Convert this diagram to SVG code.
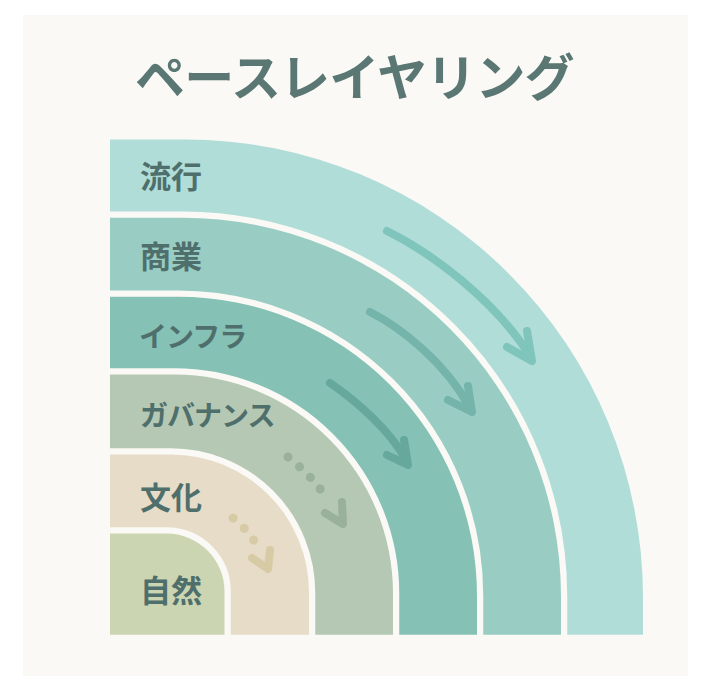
<svg xmlns="http://www.w3.org/2000/svg" width="720" height="686" viewBox="0 0 720 686">
  <style>
    .band { stroke: #faf9f5; stroke-width: 12.5; paint-order: stroke; stroke-linejoin: round; }
    .lbl { font-family: "Noto Sans CJK JP", "Noto Sans", sans-serif; font-weight: 700; font-size: 31px; fill: #4f6f6c; }
    .kana { font-size: 28px; letter-spacing: -1px; }
    .title { font-family: "Noto Sans CJK JP", "Noto Sans", sans-serif; font-weight: 700; font-size: 50px; fill: #5a7774; letter-spacing: -0.8px; }
    .arr { fill: none; stroke-linecap: round; stroke-linejoin: round; }
    .solid { stroke-width: 8; }
    .dots { stroke-width: 9; stroke-dasharray: 0.1 15; }
  </style>
  <rect x="0" y="0" width="720" height="686" fill="#ffffff"/>
  <rect x="23" y="15" width="665" height="661" fill="#faf9f5"/>
  <text class="title" x="135" y="96">ペースレイヤリング</text>

  <g id="layer-fashion">
    <path class="band" fill="#b0ddd8" d="M110,634.7 V139.5 H185 A458,458 0 0 1 643,597.5 V634.7 Z"/>
    <text class="lbl" x="140" y="188">流行</text>
  </g>
  <g id="layer-commerce">
    <path class="band" fill="#99cdc3" d="M110,634.7 V217.7 H182 A379,379 0 0 1 561,596.7 V634.7 Z"/>
    <text class="lbl" x="140" y="268">商業</text>
  </g>
  <g id="layer-infrastructure">
    <path class="band" fill="#86c1b5" d="M110,634.7 V296.7 H178 A299,299 0 0 1 477,595.7 V634.7 Z"/>
    <text class="lbl kana" x="139" y="347">インフラ</text>
  </g>
  <g id="layer-governance">
    <path class="band" fill="#b5c8b3" d="M110,634.7 V374.5 H174 A219,219 0 0 1 393,593.5 V634.7 Z"/>
    <text class="lbl kana" x="140" y="426">ガバナンス</text>
  </g>
  <g id="layer-culture">
    <path class="band" fill="#e6dcc7" d="M110,634.7 V454.5 H171 A138,138 0 0 1 309,592.5 V634.7 Z"/>
    <text class="lbl" x="140" y="509">文化</text>
  </g>
  <g id="layer-nature">
    <path class="band" fill="#ccd5b1" d="M110,634.7 V533.5 H166.5 A58,58 0 0 1 224.5,591.5 V634.7 Z"/>
    <text class="lbl" x="140" y="602">自然</text>
  </g>

  <g id="connectors">
    <path class="arr solid" stroke="#7fc5bc" d="M387,231 C430,252 495,300 530,356"/>
    <path class="arr solid" stroke="#7fc5bc" d="M507,347 L532,361 L527,331"/>
    <path class="arr solid" stroke="#74b4aa" d="M370,312 C400,327 445,362 470,408"/>
    <path class="arr solid" stroke="#74b4aa" d="M448,400 L472,412 L468,386"/>
    <path class="arr solid" stroke="#67a89c" d="M330,383 C355,400 390,430 406,460"/>
    <path class="arr solid" stroke="#67a89c" d="M387,455 L408,465 L404,440"/>
    <path class="arr dots" stroke="#99b09b" d="M288,457 Q312,476 326,497"/>
    <path class="arr solid" stroke="#99b09b" d="M325,513 L343,524 L342,502"/>
    <path class="arr dots" stroke="#d7cba6" d="M233,518 Q248,530 256,544"/>
    <path class="arr solid" stroke="#d7cba6" d="M252,558 L268,569 L270,550"/>
  </g>
</svg>
